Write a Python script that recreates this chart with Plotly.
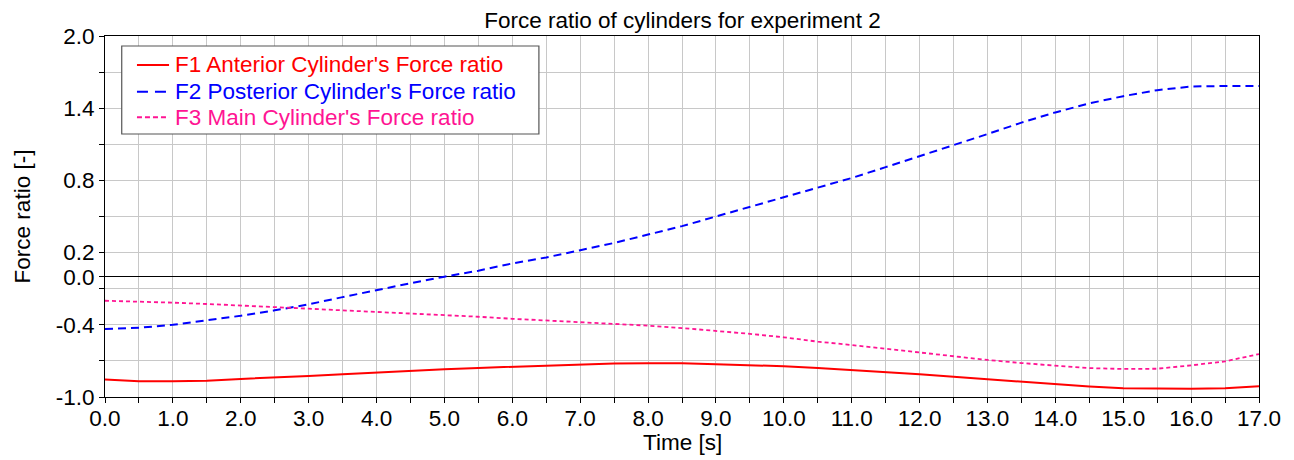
import plotly.graph_objects as go

# time axis [s]
time_s = [0.0, 0.5, 1.0, 1.5, 2.0, 2.5, 3.0, 3.5, 4.0, 4.5, 5.0, 5.5, 6.0, 6.5, 7.0, 7.5, 8.0, 8.5,
          9.0, 9.5, 10.0, 10.5, 11.0, 11.5, 12.0, 12.5, 13.0, 13.5, 14.0, 14.5, 15.0, 15.5, 16.0, 16.5, 17.0]

f1_anterior = [-0.855, -0.87, -0.87, -0.865, -0.85, -0.84, -0.825, -0.81, -0.795, -0.78, -0.77, -0.758,
               -0.748, -0.738, -0.73, -0.722, -0.72, -0.72, -0.727, -0.735, -0.745, -0.76, -0.776, -0.795,
               -0.81, -0.832, -0.853, -0.875, -0.895, -0.913, -0.928, -0.932, -0.932, -0.928, -0.91]

f2_posterior = [-0.435, -0.425, -0.40, -0.365, -0.325, -0.28, -0.23, -0.17, -0.11, -0.055, 0.0, 0.05,
                0.11, 0.16, 0.22, 0.28, 0.35, 0.42, 0.50, 0.58, 0.66, 0.74, 0.82, 0.91,
                1.00, 1.09, 1.185, 1.28, 1.365, 1.44, 1.50, 1.55, 1.58, 1.585, 1.585]

f3_main = [-0.20, -0.205, -0.216, -0.227, -0.238, -0.252, -0.266, -0.28, -0.293, -0.305, -0.316, -0.333,
           -0.35, -0.363, -0.377, -0.392, -0.407, -0.427, -0.449, -0.475, -0.504, -0.54, -0.568, -0.60,
           -0.632, -0.662, -0.692, -0.718, -0.742, -0.76, -0.767, -0.765, -0.737, -0.704, -0.643]

series_names = ["F1 Anterior Cylinder's Force ratio",
                "F2 Posterior Cylinder's Force ratio",
                "F3 Main Cylinder's Force ratio"]

# axis ticks
x_tickvals = [i * 0.5 for i in range(35)]
x_ticktext = [f"{v:.1f}" if v == int(v) else "" for v in x_tickvals]
y_tickvals = [-1.0, -0.7, -0.4, -0.1, 0.0, 0.2, 0.5, 0.8, 1.1, 1.4, 1.7, 2.0]
y_ticktext = ["-1.0", "", "-0.4", "", "0.0", "0.2", "", "0.8", "", "1.4", "", "2.0"]

FONT = "Liberation Sans, Arial, sans-serif"
FS = 22.5

styles = [
    dict(color='#ff0000', width=2),
    dict(color='#0000ff', width=2, dash='8px,5px'),
    dict(color='#ff1493', width=1.8, dash='4px,3px'),
]
legend_dash = ['solid', '11px,7px', '5px,3px']

fig = go.Figure()
for name, ys, st in zip(series_names, [f1_anterior, f2_posterior, f3_main], styles):
    fig.add_trace(go.Scatter(x=time_s, y=ys, name=name, mode='lines', line=st, showlegend=False))

# legend box drawn by hand (plotly's own legend spaces rows too far apart)
fig.add_shape(type='rect', xref='x domain', yref='y domain',
              x0=0.0145, x1=0.376, y0=0.7285, y1=0.9723,
              fillcolor='white', line=dict(color='#555555', width=1.2), layer='above')
row_y = [0.9197, 0.8457, 0.7748]
for name, st, dsh, ry in zip(series_names, styles, legend_dash, row_y):
    fig.add_shape(type='line', xref='x domain', yref='y domain',
                  x0=0.0277, x1=0.0555, y0=ry, y1=ry,
                  line=dict(color=st['color'], width=2, dash=dsh), layer='above')
    fig.add_annotation(xref='x domain', yref='y domain', x=0.0585, y=ry,
                       xanchor='left', yanchor='middle', showarrow=False, text=name,
                       font=dict(size=FS, family=FONT, color=st['color']))

# x axis title
fig.add_annotation(xref='x domain', yref='y domain', x=0.5, y=-0.127,
                   xanchor='center', yanchor='middle', showarrow=False, text='Time [s]',
                   font=dict(size=FS, family=FONT, color='black'))

axis_common = dict(
    showgrid=True, gridcolor='#c8c8c8', gridwidth=1,
    showline=True, linecolor='black', linewidth=1, mirror=True,
    ticks='outside', ticklen=5, tickcolor='black', automargin=False,
    tickfont=dict(size=FS, color='black', family=FONT),
)

fig.update_layout(
    width=1294, height=460,
    paper_bgcolor='white', plot_bgcolor='white',
    margin=dict(l=105, r=35, t=36, b=63),
    font=dict(family=FONT, color='black'),
    title=dict(text='Force ratio of cylinders for experiment 2', x=0.5274, xanchor='center',
               y=0.9565, yanchor='middle', font=dict(size=FS, family=FONT, color='black')),
    xaxis=dict(
        range=[0, 17], tickmode='array', tickvals=x_tickvals, ticktext=x_ticktext,
        ticklabelstandoff=-4, zeroline=False, **axis_common
    ),
    yaxis=dict(
        range=[-1.0, 2.0], tickmode='array', tickvals=y_tickvals, ticktext=y_ticktext,
        title=dict(text='Force ratio [-]', font=dict(size=FS, family=FONT), standoff=18),
        zeroline=True, zerolinecolor='black', zerolinewidth=1, **axis_common
    ),
    showlegend=False,
)

# remove the default page margin so the figure fills the window exactly
fig.write_html("out.html", config={'displayModeBar': False},
               post_script="document.body.style.margin='0';")
